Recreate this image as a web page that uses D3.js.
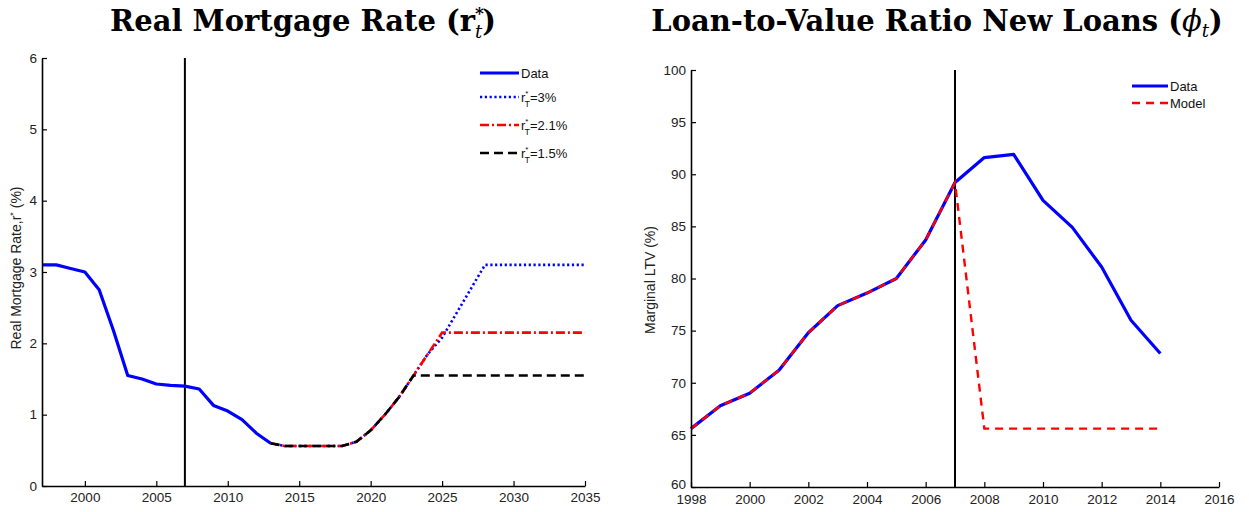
<!DOCTYPE html>
<html>
<head>
<meta charset="utf-8">
<script src="https://cdn.jsdelivr.net/npm/d3@7"></script>
<style>
  html, body { margin: 0; padding: 0; background: #fff; }
  svg { display: block; }
  .tick text { font-family: "Liberation Sans", Arial, sans-serif; font-size: 13.5px; fill: #222; }
</style>
</head>
<body>
<script>
// ---- Real mortgage rate: history and three long-run scenarios ----
const rateYears = [1997,1998,1999,2000,2001,2002,2003,2004,2005,2006,2007,2008,2009,2010,2011,2012,2013];
const rateData  = [3.1,3.1,3.05,3.0,2.75,2.18,1.55,1.5,1.43,1.41,1.4,1.36,1.13,1.05,0.93,0.74,0.6];

const scenarioYears = [2013,2014,2015,2016,2017,2018,2019,2020,2021,2022,2023,2024,2025,2026,2027,2028,2029,2030,2031,2032,2033,2034,2035];
const rate3   = [0.6,0.56,0.56,0.56,0.56,0.56,0.62,0.78,1.0,1.25,1.55,1.85,2.08,2.42,2.76,3.1,3.1,3.1,3.1,3.1,3.1,3.1,3.1];
const rate21  = [0.6,0.56,0.56,0.56,0.56,0.56,0.62,0.78,1.0,1.25,1.55,1.85,2.15,2.15,2.15,2.15,2.15,2.15,2.15,2.15,2.15,2.15,2.15];
const rate15  = [0.6,0.56,0.56,0.56,0.56,0.56,0.62,0.78,1.0,1.25,1.55,1.55,1.55,1.55,1.55,1.55,1.55,1.55,1.55,1.55,1.55,1.55,1.55];

const rateXTicks = [2000,2005,2010,2015,2020,2025,2030,2035];
const rateYTicks = [0,1,2,3,4,5,6];

// ---- Loan-to-value ratio of new loans ----
const ltvYears = [1998,1999,2000,2001,2002,2003,2004,2005,2006,2007,2008,2009,2010,2011,2012,2013,2014];
const ltvData  = [65.6,67.8,69.0,71.2,74.8,77.4,78.6,80.0,83.7,89.2,91.6,91.9,87.5,84.9,81.1,76.0,72.8];
const ltvModel = [65.6,67.8,69.0,71.2,74.8,77.4,78.6,80.0,83.7,89.2,65.6,65.6,65.6,65.6,65.6,65.6,65.6];

const ltvXTicks = [1998,2000,2002,2004,2006,2008,2010,2012,2014,2016];
const ltvYTicks = [60,65,70,75,80,85,90,95,100];

const breakYear = 2007;

const W = 1249, H = 512;
const svg = d3.select("body").append("svg").attr("width", W).attr("height", H);

const SANS = "'Liberation Sans', Arial, sans-serif";
const SERIF = "'DejaVu Serif', 'Liberation Serif', serif";

function drawAxes(g, x, y, xTicks, yTicks, xPad) {
  const tickLen = 5;
  const xr = x.range(), yr = y.range();
  // bottom axis, ticks pointing into the plot
  const xa = g.append("g").attr("transform", `translate(0,${yr[0]})`)
    .call(d3.axisBottom(x).tickValues(xTicks).tickFormat(d3.format("d")).tickSizeInner(-tickLen).tickSizeOuter(0).tickPadding(xPad));
  // left axis, ticks pointing into the plot
  const ya = g.append("g").attr("transform", `translate(${xr[0]},0)`)
    .call(d3.axisLeft(y).tickValues(yTicks).tickFormat(d3.format("d")).tickSizeInner(-tickLen).tickSizeOuter(0).tickPadding(5));
  [xa, ya].forEach(a => {
    a.select(".domain").attr("stroke", "#000").attr("stroke-width", 1.6);
    a.selectAll(".tick line").attr("stroke", "#000").attr("stroke-width", 1.2);
  });
  return {xa, ya};
}

// ================= Left panel =================
{
  const x = d3.scaleLinear().domain([1997, 2035]).range([42, 585]);
  const y = d3.scaleLinear().domain([0, 6]).range([486, 58]);
  const g = svg.append("g");
  const line = d3.line().x(d => x(d[0])).y(d => y(d[1]));

  // vertical marker at the start of the crisis
  g.append("line").attr("x1", x(breakYear)).attr("x2", x(breakYear))
    .attr("y1", y(6)).attr("y2", y(0)).attr("stroke", "#000").attr("stroke-width", 2);

  g.append("path").datum(d3.zip(rateYears, rateData)).attr("d", line)
    .attr("fill", "none").attr("stroke", "#0000ff").attr("stroke-width", 3.2).attr("stroke-linejoin", "round");
  g.append("path").datum(d3.zip(scenarioYears, rate3)).attr("d", line)
    .attr("fill", "none").attr("stroke", "#0000ff").attr("stroke-width", 2.6).attr("stroke-dasharray", "2.2,2.6");
  g.append("path").datum(d3.zip(scenarioYears, rate21)).attr("d", line)
    .attr("fill", "none").attr("stroke", "#ff0000").attr("stroke-width", 2.6).attr("stroke-dasharray", "9,3,2,3");
  g.append("path").datum(d3.zip(scenarioYears, rate15)).attr("d", line)
    .attr("fill", "none").attr("stroke", "#000").attr("stroke-width", 2.6).attr("stroke-dasharray", "9,5");

  drawAxes(g, x, y, rateXTicks, rateYTicks, 6);

  // y-axis label
  const yl = g.append("text").attr("transform", `translate(21,268) rotate(-90)`)
    .attr("text-anchor", "middle").style("font-family", SANS).style("font-size", "14px").attr("fill", "#222");
  yl.append("tspan").text("Real Mortgage Rate,r");
  yl.append("tspan").attr("dy", -5).style("font-size", "9px").text("*");
  yl.append("tspan").attr("dy", 5).text(" (%)");

  // title
  const t = g.append("text").attr("x", 303).attr("y", 31).attr("text-anchor", "middle")
    .style("font-family", SERIF).style("font-weight", "bold").style("font-size", "29px").attr("fill", "#000");
  t.append("tspan").text("Real Mortgage Rate (r");
  t.append("tspan").attr("dy", -12).style("font-size", "17px").text("*");
  t.append("tspan").attr("dx", -9).attr("dy", 19).style("font-size", "18px").style("font-style", "italic").style("font-weight", "normal").text("t");
  t.append("tspan").attr("dy", -7).text(")");

  // legend
  const legend = [
    {label: "Data", sub: false, color: "#0000ff", dash: null, w: 3.2},
    {label: "=3%", sub: true, color: "#0000ff", dash: "2.2,2.6", w: 2.6},
    {label: "=2.1%", sub: true, color: "#ff0000", dash: "9,3,2,3", w: 2.6},
    {label: "=1.5%", sub: true, color: "#000", dash: "9,5", w: 2.6}
  ];
  const ly = [73, 97, 125, 153];
  legend.forEach((d, i) => {
    const lg = g.append("g").attr("transform", `translate(0,${ly[i]})`);
    lg.append("line").attr("x1", 480).attr("x2", 519).attr("y1", 0).attr("y2", 0)
      .attr("stroke", d.color).attr("stroke-width", d.w).attr("stroke-dasharray", d.dash);
    const tx = lg.append("text").attr("x", 521).attr("y", 5)
      .style("font-family", SANS).style("font-size", "13px").attr("fill", "#111");
    if (!d.sub) { tx.text(d.label); }
    else {
      tx.append("tspan").text("r");
      tx.append("tspan").attr("dy", -6).style("font-size", "8px").text("*");
      tx.append("tspan").attr("dx", -4).attr("dy", 11).style("font-size", "9px").text("T");
      tx.append("tspan").attr("dy", -5).text(d.label);
    }
  });
}

// ================= Right panel =================
{
  const x = d3.scaleLinear().domain([1998, 2016]).range([691, 1219]);
  const y = d3.scaleLinear().domain([60, 100]).range([487, 70]);
  const g = svg.append("g");
  const line = d3.line().x(d => x(d[0])).y(d => y(d[1]));

  g.append("line").attr("x1", x(breakYear)).attr("x2", x(breakYear))
    .attr("y1", y(100)).attr("y2", y(60)).attr("stroke", "#000").attr("stroke-width", 2);

  g.append("path").datum(d3.zip(ltvYears, ltvData)).attr("d", line)
    .attr("fill", "none").attr("stroke", "#0000ff").attr("stroke-width", 3.2).attr("stroke-linejoin", "round");
  g.append("path").datum(d3.zip(ltvYears, ltvModel)).attr("d", line)
    .attr("fill", "none").attr("stroke", "#ff0000").attr("stroke-width", 2.4).attr("stroke-dasharray", "8,6");

  const axes = drawAxes(g, x, y, ltvXTicks, ltvYTicks, 7);
  // lift the bottom value label clear of the first year label
  axes.ya.selectAll(".tick text").filter(d => d === 60).attr("dy", "0.1em");

  g.append("text").attr("transform", `translate(655,280) rotate(-90)`)
    .attr("text-anchor", "middle").style("font-family", SANS).style("font-size", "14px").attr("fill", "#222")
    .text("Marginal LTV (%)");

  const t = g.append("text").attr("x", 937).attr("y", 31).attr("text-anchor", "middle")
    .style("font-family", SERIF).style("font-weight", "bold").style("font-size", "29px").attr("fill", "#000");
  t.append("tspan").text("Loan-to-Value Ratio New Loans (");
  t.append("tspan").style("font-style", "italic").style("font-weight", "normal").text("\u03D5");
  t.append("tspan").attr("dy", 6).style("font-size", "18px").style("font-style", "italic").style("font-weight", "normal").text("t");
  t.append("tspan").attr("dy", -6).text(")");

  const legend = [
    {label: "Data", color: "#0000ff", dash: null, w: 3.2},
    {label: "Model", color: "#ff0000", dash: "8,6", w: 2.4}
  ];
  const ly = [86, 103];
  legend.forEach((d, i) => {
    const lg = g.append("g").attr("transform", `translate(0,${ly[i]})`);
    lg.append("line").attr("x1", 1132).attr("x2", 1168).attr("y1", 0).attr("y2", 0)
      .attr("stroke", d.color).attr("stroke-width", d.w).attr("stroke-dasharray", d.dash);
    lg.append("text").attr("x", 1170).attr("y", 5)
      .style("font-family", SANS).style("font-size", "13px").attr("fill", "#111").text(d.label);
  });
}
</script>
</body>
</html>
